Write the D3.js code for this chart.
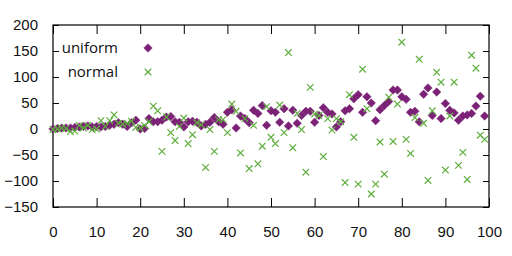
<!DOCTYPE html>
<html>
<head>
<meta charset="utf-8">
<script src="https://cdn.jsdelivr.net/npm/d3@7"></script>
<style>
  body { margin: 0; background: #fff; }
  svg { display: block; font-family: "Open Sans", "Noto Sans", sans-serif; }
</style>
</head>
<body>
<svg id="chart" width="512" height="256"></svg>
<script>
// values, one per x = 0..99
const uniform = [
  0, 1, 2, 2, 2, 3, 4, 5, 6, 4,
  5, 4, 5, 7, 9, 12, 9, 5, 12, 17,
  0, 1, 20, 14, 14, 17, 23, 24, 14, 13,
  4, 14, 15, 13, 6, 9, 13, 22, 14, 9,
  32, 37, 2, 25, 20, 12, 36, 30, 45, 7,
  35, 32, 13, 39, 6, 36, 11, 26, 34, 34,
  13, 26, 41, 32, 29, 4, 14, 35, 39, 58,
  66, 32, 62, 50, 16, 37, 45, 53, 75, 75,
  62, 57, 32, 34, 14, 67, 79, 26, 71, 20,
  49, 36, 31, 17, 25, 27, 30, 44, 63, 25
];
const normal = [
  -1, 0, 2, 1, -5, -4, 7, 2, 7, -1,
  0, 16, 5, 16, 27, 11, 9, 11, 15, 3,
  2, 7, 14, 44, 35, -43, 23, -7, -22, 5,
  21, -28, -11, 12, 8, -74, -1, -43, 18, 18,
  -7, 48, 34, -46, 20, -76, 7, -67, -33, 43,
  -16, -28, 46, -7, 147, -36, 30, -1, -83, 80,
  29, 26, -53, 20, -2, 20, 14, -103, 66, -16,
  -106, 115, 39, -125, -106, -25, -87, 61, -24, 48,
  167, -20, -47, 22, 134, 11, -99, 35, 109, 90,
  -79, 25, 90, -70, -45, -97, 142, 117, -12, -20
];
const seriesNames = ['uniform', 'normal'];
const colors = ['#7b2277', '#5fae3e'];
const xTicks = [0, 10, 20, 30, 40, 50, 60, 70, 80, 90, 100];
const yTicks = [-150, -100, -50, 0, 50, 100, 150, 200];

const svg = d3.select('#chart');
const margin = { top: 25, right: 23, bottom: 49, left: 53 };
const width = 512 - margin.left - margin.right;
const height = 256 - margin.top - margin.bottom;

const x = d3.scaleLinear().domain([0, 100]).range([0, width]);
const y = d3.scaleLinear().domain([-150, 200]).range([height, 0]);

const g = svg.append('g')
  .attr('transform', 'translate(' + margin.left + ',' + margin.top + ')');

// axes: gnuplot style, ticks inward and mirrored
const fontSize = '15px';
function styleAxis(sel) {
  sel.select('.domain').remove();
  sel.selectAll('line').attr('stroke', '#000').attr('stroke-width', 1);
  sel.selectAll('text').attr('fill', '#111').style('font-size', fontSize);
}

g.append('g')
  .attr('transform', 'translate(0,' + height + ')')
  .call(d3.axisBottom(x).tickValues(xTicks).tickSizeInner(-9).tickPadding(19))
  .call(styleAxis);
g.append('g')
  .call(d3.axisTop(x).tickValues(xTicks).tickSizeInner(-9).tickFormat(''))
  .call(styleAxis);
g.append('g')
  .call(d3.axisLeft(y).tickValues(yTicks).tickSizeInner(-6).tickPadding(15))
  .call(styleAxis);
g.append('g')
  .attr('transform', 'translate(' + width + ',0)')
  .call(d3.axisRight(y).tickValues(yTicks).tickSizeInner(-6).tickFormat(''))
  .call(styleAxis);

g.append('rect')
  .attr('width', width).attr('height', height)
  .attr('fill', 'none').attr('stroke', '#000').attr('stroke-width', 1.2);

const diamond = d3.symbol().type(d3.symbolDiamond2).size(46);
const cross = d3.symbol().type(d3.symbolX).size(30);

function drawSeries(data, i, sym) {
  const layer = g.append('g');
  layer.selectAll('path')
    .data(data)
    .enter().append('path')
    .attr('transform', function (d, k) { return 'translate(' + x(k) + ',' + y(d) + ')'; })
    .attr('d', sym)
    .attr('fill', i === 0 ? colors[i] : 'none')
    .attr('stroke', colors[i])
    .attr('stroke-width', i === 0 ? 0.5 : 1.2);
}
drawSeries(uniform, 0, diamond);
drawSeries(normal, 1, cross);

// legend
const legend = g.append('g');
seriesNames.forEach(function (name, i) {
  const ly = 23 + i * 24;
  legend.append('text')
    .attr('x', 65).attr('y', ly)
    .attr('dy', '0.35em')
    .attr('text-anchor', 'end')
    .attr('fill', '#111')
    .style('font-size', fontSize)
    .text(name);
  legend.append('path')
    .attr('transform', 'translate(95,' + ly + ')')
    .attr('d', i === 0 ? diamond : cross)
    .attr('fill', i === 0 ? colors[i] : 'none')
    .attr('stroke', colors[i])
    .attr('stroke-width', i === 0 ? 0.5 : 1.2);
});
</script>
</body>
</html>
